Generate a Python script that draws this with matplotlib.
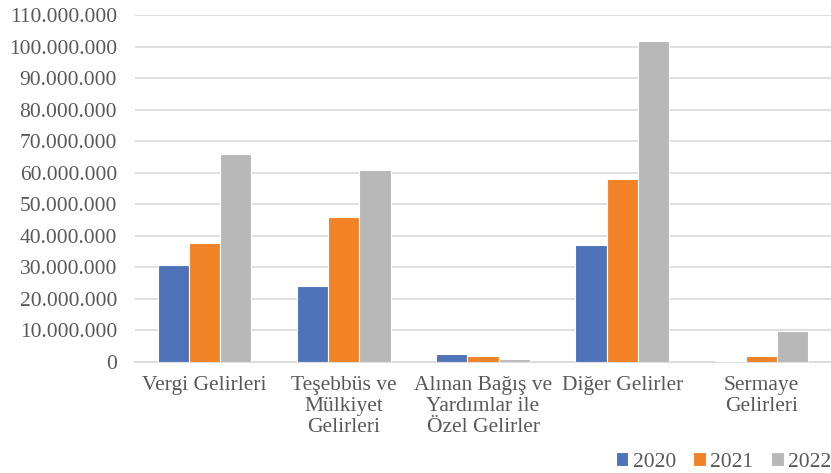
import numpy as np
import matplotlib
matplotlib.use("Agg")
import matplotlib.pyplot as plt
from matplotlib.ticker import FuncFormatter

categories = ["Vergi Gelirleri", "Teşebbüs ve\nMülkiyet\nGelirleri",
              "Alınan Bağış ve\nYardımlar ile\nÖzel Gelirler", "Diğer Gelirler",
              "Sermaye\nGelirleri"]
years = ["2020", "2021", "2022"]
v2020 = [30600000, 24000000, 2600000, 37200000, 300000]
v2021 = [37800000, 45900000, 2000000, 57900000, 2000000]
v2022 = [65800000, 61000000, 950000, 101900000, 9900000]
colors = ["#4E73B9", "#F28226", "#B8B8B8"]

plt.rcParams["font.family"] = ["Liberation Serif", "DejaVu Serif"]
text_col = "#595959"

fig = plt.figure(figsize=(8.31, 4.73), dpi=100)
ax = fig.add_axes([0.1625, 0.2347, 0.8375, 0.7336])

x = np.arange(len(categories))
w = 0.224
for i, vals in enumerate([v2020, v2021, v2022]):
    ax.bar(x + (i - 1) * w, vals, w, color=colors[i], edgecolor="white",
           linewidth=0.8, label=years[i], zorder=3)

ax.set_xlim(-0.5, len(categories) - 0.5)
ax.set_ylim(0, 110000000)
ax.set_yticks(np.arange(0, 110000001, 10000000))
ax.yaxis.set_major_formatter(FuncFormatter(lambda v, p: "{:,.0f}".format(v).replace(",", ".")))
ax.set_xticks(x)
ax.set_xticklabels(categories, fontsize=15.5, color=text_col, va="top", linespacing=1.15)
ax.tick_params(axis="y", labelsize=15.5, labelcolor=text_col, length=0, pad=13)
ax.tick_params(axis="x", length=0, pad=10)
ax.grid(axis="y", color="#D9D9D9", linewidth=1.2, zorder=0)
for s in ["top", "right", "left"]:
    ax.spines[s].set_visible(False)
ax.spines["bottom"].set_color("#D9D9D9")
ax.spines["bottom"].set_linewidth(1.2)

fig.legend(loc="center right", ncol=3, frameon=False, fontsize=15.5,
           labelcolor=text_col, handlelength=0.6, handleheight=0.6,
           handletextpad=0.2, columnspacing=0.8, borderpad=0, borderaxespad=0,
           bbox_to_anchor=(1.0, 0.023))

fig.savefig("out.png", dpi=100)
